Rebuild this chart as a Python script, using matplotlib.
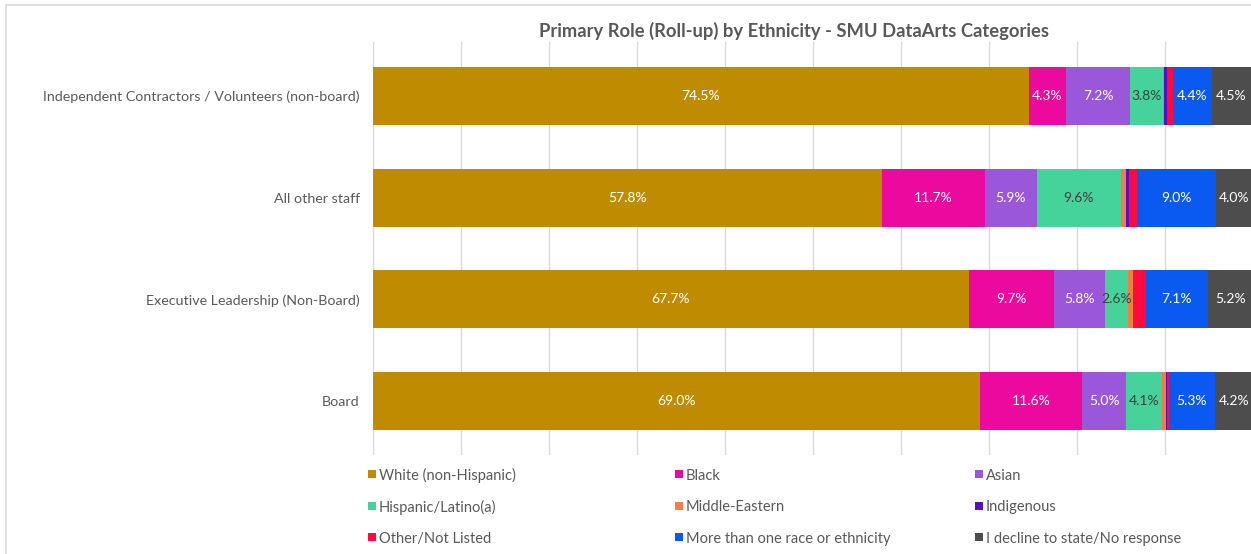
import numpy as np
import matplotlib.pyplot as plt
from matplotlib.patches import Rectangle

plt.rcParams['font.family'] = ['Lato', 'DejaVu Sans']

roles = ['Independent Contractors / Volunteers (non-board)', 'All other staff',
         'Executive Leadership (Non-Board)', 'Board']
groups = ['White (non-Hispanic)', 'Black', 'Asian', 'Hispanic/Latino(a)', 'Middle-Eastern',
          'Indigenous', 'Other/Not Listed', 'More than one race or ethnicity',
          'I decline to state/No response']

# percent per role, in group order
white    = [74.5, 57.8, 67.7, 69.0]
black    = [4.3, 11.7, 9.7, 11.6]
asian    = [7.2, 5.9, 5.8, 5.0]
hispanic = [3.8, 9.6, 2.6, 4.1]
mideast  = [0.1, 0.6, 0.6, 0.4]
indig    = [0.3, 0.3, 0.0, 0.1]
other    = [0.7, 0.9, 1.4, 0.2]
multi    = [4.4, 9.0, 7.1, 5.3]
decline  = [4.5, 4.0, 5.2, 4.2]

colors = ['#BF8B00', '#EC0A9E', '#9A57DA', '#45D29B', '#F47C45',
          '#5410C8', '#FF0A3C', '#0A5AF2', '#4D4D4D']
label_colors = ['white', 'white', 'white', '#404040', 'white',
                'white', 'white', 'white', 'white']

series = [white, black, asian, hispanic, mideast, indig, other, multi, decline]

fig = plt.figure(figsize=(12.51, 5.54), dpi=100)
W, H = 1251, 554
ax = fig.add_axes([373 / W, 1 - 455 / H, 880 / W, 413 / H])

y = np.arange(len(roles))[::-1]
left = np.zeros(len(roles))
for vals, col, lc in zip(series, colors, label_colors):
    vals = np.array(vals)
    ax.barh(y, vals, left=left, height=0.57, color=col, edgecolor='none', zorder=2)
    for yi, l, v in zip(y, left, vals):
        if v >= 2:
            ax.text(l + v / 2, yi, f'{v:.1f}%', ha='center', va='center',
                    color=lc, fontsize=10, zorder=3)
    left += vals

ax.set_xlim(0, 100)
ax.set_ylim(-0.53, 3.53)
ax.set_xticks(np.arange(0, 101, 10))
ax.set_xticklabels([])
ax.set_yticks(y)
ax.set_yticklabels(roles, fontsize=10.3, color='#595959')
ax.tick_params(length=0, pad=9.5)
ax.xaxis.grid(True, color='#D9D9D9', lw=1, zorder=0)
for s in ax.spines.values():
    s.set_visible(False)

fig.text(794 / W, 1 - 31 / H, 'Primary Role (Roll-up) by Ethnicity - SMU DataArts Categories',
         ha='center', va='center', fontsize=13.2, fontweight='bold', color='#595959')

# legend: 3 rows x 3 columns, filled row-wise like the original
col_x = [368, 675, 975]
row_y = [474, 505.5, 537]
for i, (g, col) in enumerate(zip(groups, colors)):
    px, py = col_x[i % 3], row_y[i // 3]
    fig.add_artist(Rectangle((px / W, 1 - (py + 4) / H), 8 / W, 8 / H,
                             transform=fig.transFigure, facecolor=col, edgecolor='none'))
    fig.text((px + 11) / W, 1 - py / H, g, ha='left', va='center_baseline',
             fontsize=10.5, color='#595959')

# chart border
fig.add_artist(Rectangle((6 / W, -0.1), 2, 1 - 5 / H + 0.1, transform=fig.transFigure,
                         fill=False, edgecolor='#D9D9D9', lw=1.2))

fig.savefig('out.png', dpi=100)
